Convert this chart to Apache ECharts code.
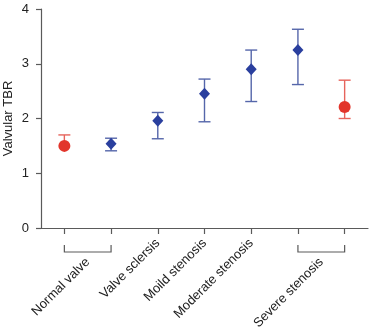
<!DOCTYPE html>
<html>
<head>
<meta charset="utf-8">
<script src="https://cdn.jsdelivr.net/npm/echarts@6/dist/echarts.min.js"></script>
<style>
  html, body { margin: 0; padding: 0; background: #ffffff; }
  #chart { width: 370px; height: 328px; }
</style>
</head>
<body>
<div id="chart"></div>
<script>
// Seven measurement slots along the x axis; two groups span two slots each.
const slots = ['Normal valve A', 'Normal valve B', 'Valve sclersis', 'Moild stenosis',
               'Moderate stenosis', 'Severe stenosis A', 'Severe stenosis B'];
// Groups that share a bracket under the axis: [label, firstSlot, lastSlot]
const bracketGroups = [
  ['Normal valve', 0, 1],
  ['Severe stenosis', 5, 6]
];
// Slots that carry their own axis label
const singleLabelSlots = [2, 3, 4];

// Mean valvular TBR with lower / upper error limits
const redSlots   = [0, 6];
const redMean    = [1.50, 2.21];
const redLow     = [1.50, 2.00];
const redHigh    = [1.70, 2.70];

const blueSlots  = [1, 2, 3, 4, 5];
const blueMean   = [1.54, 1.96, 2.45, 2.90, 3.25];
const blueLow    = [1.41, 1.63, 1.94, 2.31, 2.62];
const blueHigh   = [1.64, 2.11, 2.72, 3.25, 3.63];

const yTicks = [0, 1, 2, 3, 4];

const FONT = '"Liberation Sans", Arial, Helvetica, sans-serif';
const AXIS_COLOR = '#5a5a5a';
const TEXT_COLOR = '#222222';
const BLUE = '#2a3f9e';
const BLUE_BAR = '#5566aa';
const RED = '#e2352b';
const RED_BAR = '#e6645c';

function errorRenderer(color) {
  return function (params, api) {
    const x = api.value(0);
    const lo = api.coord([x, api.value(1)]);
    const hi = api.coord([x, api.value(2)]);
    const half = 6;
    const style = { stroke: color, lineWidth: 1.4, fill: null };
    const children = [
      { type: 'line', shape: { x1: hi[0], y1: hi[1], x2: lo[0], y2: lo[1] }, style: style },
      { type: 'line', shape: { x1: hi[0] - half, y1: hi[1], x2: hi[0] + half, y2: hi[1] }, style: style }
    ];
    if (api.value(1) < api.value(3)) {
      children.push({ type: 'line', shape: { x1: lo[0] - half, y1: lo[1], x2: lo[0] + half, y2: lo[1] }, style: style });
    }
    return { type: 'group', children: children };
  };
}

function errorData(xs, lo, hi, mean) {
  return xs.map((x, i) => [x, lo[i], hi[i], mean[i]]);
}

const chart = echarts.init(document.getElementById('chart'), null, { renderer: 'canvas' });

chart.setOption({
  animation: false,
  backgroundColor: '#ffffff',
  grid: { left: 41, right: 2, top: 9, bottom: 100, containLabel: false, outerBoundsMode: 'none' },
  xAxis: {
    type: 'category',
    data: slots,
    boundaryGap: true,
    axisLine: { show: true, lineStyle: { color: AXIS_COLOR, width: 1.2 } },
    axisTick: { show: true, alignWithLabel: true, length: 6, lineStyle: { color: AXIS_COLOR, width: 1.2 } },
    axisLabel: {
      interval: 0,
      rotate: 45,
      margin: 13,
      fontFamily: FONT,
      fontSize: 13,
      color: TEXT_COLOR,
      formatter: function (value, index) {
        return singleLabelSlots.indexOf(index) >= 0 ? value : '';
      }
    },
    splitLine: { show: false }
  },
  yAxis: {
    type: 'value',
    min: 0,
    max: 4,
    interval: 1,
    name: 'Valvular TBR',
    nameLocation: 'middle',
    nameGap: 26,
    nameMoveOverlap: false,
    nameTextStyle: { fontFamily: FONT, fontSize: 13, color: TEXT_COLOR },
    axisLine: { show: true, lineStyle: { color: AXIS_COLOR, width: 1.2 } },
    axisTick: { show: true, length: 5, lineStyle: { color: AXIS_COLOR, width: 1.2 } },
    axisLabel: {
      margin: 12,
      fontFamily: FONT,
      fontSize: 13,
      color: TEXT_COLOR,
      formatter: function (v) { return yTicks.indexOf(v) >= 0 ? String(v) : ''; }
    },
    splitLine: { show: false }
  },
  series: [
    {
      type: 'custom',
      name: 'blue error',
      renderItem: errorRenderer(BLUE_BAR),
      data: errorData(blueSlots, blueLow, blueHigh, blueMean),
      encode: { x: 0, y: [1, 2] },
      clip: false,
      z: 2
    },
    {
      type: 'custom',
      name: 'red error',
      renderItem: errorRenderer(RED_BAR),
      data: errorData(redSlots, redLow, redHigh, redMean),
      encode: { x: 0, y: [1, 2] },
      clip: false,
      z: 2
    },
    {
      type: 'scatter',
      name: 'blue',
      symbol: 'diamond',
      symbolSize: [11, 12],
      itemStyle: { color: BLUE, opacity: 1 },
      data: blueSlots.map((x, i) => [x, blueMean[i]]),
      clip: false,
      z: 3
    },
    {
      type: 'scatter',
      name: 'red',
      symbol: 'circle',
      symbolSize: 12,
      itemStyle: { color: RED, opacity: 1 },
      data: redSlots.map((x, i) => [x, redMean[i]]),
      clip: false,
      z: 3
    },
    {
      // Brackets under the axis joining two slots, with the group's rotated label
      type: 'custom',
      name: 'brackets',
      data: bracketGroups.map(g => [g[1], g[2], 0]),
      encode: { x: [0, 1] },
      clip: false,
      silent: true,
      renderItem: function (params, api) {
        const a = api.coord([api.value(0), 0]);
        const b = api.coord([api.value(1), 0]);
        const top = a[1] + 17;
        const bottom = a[1] + 24;
        const label = bracketGroups[params.dataIndex][0];
        const cx = (a[0] + b[0]) / 2;
        return {
          type: 'group',
          children: [
            {
              type: 'polyline',
              shape: { points: [[a[0], top], [a[0], bottom], [b[0], bottom], [b[0], top]] },
              style: { stroke: AXIS_COLOR, lineWidth: 1.2, fill: null }
            },
            {
              type: 'text',
              x: cx,
              y: bottom + 8,
              rotation: Math.PI / 4,
              style: {
                text: label,
                fontFamily: FONT,
                fontSize: 13,
                fill: TEXT_COLOR,
                align: 'right',
                verticalAlign: 'middle'
              }
            }
          ]
        };
      }
    }
  ]
});
</script>
</body>
</html>
